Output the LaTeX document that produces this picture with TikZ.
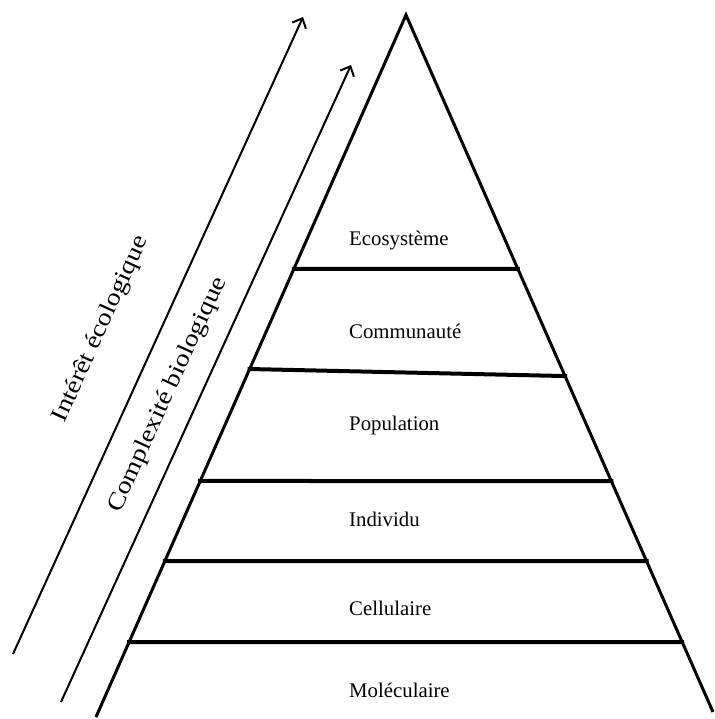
\documentclass[tikz,border=0pt]{standalone}
\usepackage{fontspec}
\setmainfont{Liberation Serif}
\usetikzlibrary{arrows.meta,calc}
\begin{document}
\begin{tikzpicture}[x=1pt,y=-1pt,
  side/.style={line width=3pt},
  level/.style={line width=4pt, shorten <=-2pt, shorten >=-2pt},
  trend/.style={line width=2pt,-{Straight Barb[length=8pt,width=15pt,line width=2pt]}},
  lbl/.style={anchor=base west, inner sep=0pt, font=\fontsize{20.8}{24}\selectfont},
  sidelbl/.style={rotate=65.5, inner sep=0pt, font=\fontsize{24}{28}\selectfont}]
\useasboundingbox (0,0) rectangle (714,719);
\coordinate (apex) at (406,15);
\coordinate (bl) at (96,717);
\coordinate (br) at (713,712);
\draw[side, line join=miter] (bl) -- (apex) -- (br);
\draw[level] ($(apex)!0.3618!(bl)$) -- ($(apex)!0.3644!(br)$);
\draw[level] ($(apex)!0.5043!(bl)$) -- ($(apex)!0.5180!(br)$);
\draw[level] ($(apex)!0.6638!(bl)$) -- ($(apex)!0.6686!(br)$);
\draw[level] ($(apex)!0.7778!(bl)$) -- ($(apex)!0.7834!(br)$);
\draw[level] ($(apex)!0.8932!(bl)$) -- ($(apex)!0.8996!(br)$);
\node[lbl] (eco) at (349,245) {Ecosystème};
\node[lbl] (com) at (349,338) {Communauté};
\node[lbl] (pop) at (349,430) {Population};
\node[lbl] (ind) at (349,526) {Individu};
\node[lbl] (cel) at (349,615) {Cellulaire};
\node[lbl] (mol) at (349,697) {Moléculaire};
\coordinate (a1s) at (13,654);
\coordinate (a1e) at (303,17);
\coordinate (a2s) at (61,702);
\coordinate (a2e) at (351,65);
\draw[trend] (a1s) -- (a1e);
\draw[trend] (a2s) -- (a2e);
\node[sidelbl] (ie) at (101,329) {\scalebox{1.16}[1]{Intérêt écologique}};
\node[sidelbl] (cb) at (168,395) {\scalebox{1.16}[1]{Complexité biologique}};
\end{tikzpicture}
\end{document}
